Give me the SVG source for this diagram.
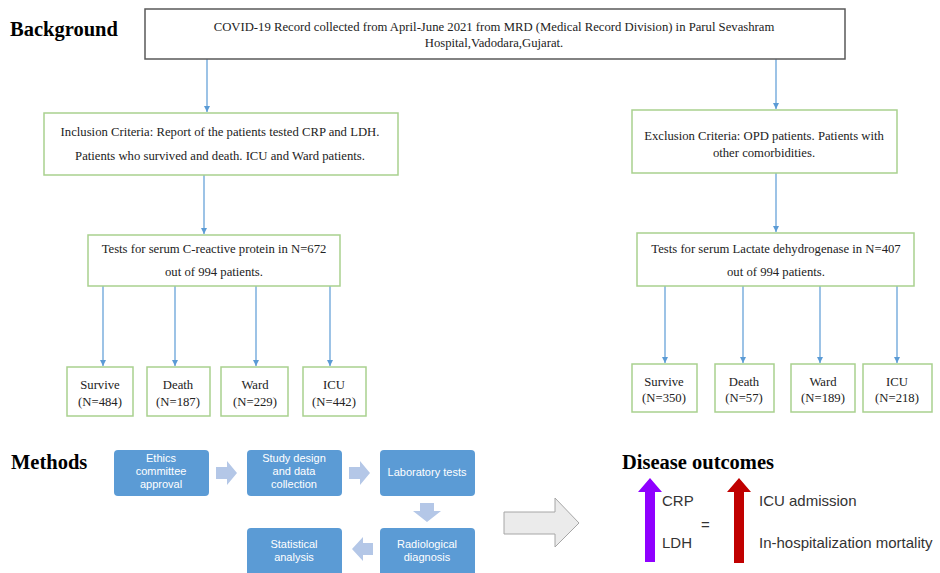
<svg xmlns="http://www.w3.org/2000/svg" width="940" height="573" viewBox="0 0 940 573">
<style>
.bg{fill:#fff}
.head{font-family:"Liberation Serif",serif;font-weight:bold;font-size:20.5px;fill:#000}
.t{font-family:"Liberation Serif",serif;font-size:12.7px;fill:#222;text-anchor:middle}
.gbox{fill:#fff;stroke:#a9d18e;stroke-width:1.5}
.top{fill:#fff;stroke:#595959;stroke-width:1.5}
.con{stroke:#5b9bd5;stroke-width:1.2;fill:none;marker-end:url(#ah)}
.mbox{fill:#5b9bd5}
.mt{font-family:"Liberation Sans",sans-serif;font-size:11px;fill:#fff;text-anchor:middle}
.bar{fill:#b4c7e7}
.ot{font-family:"Liberation Sans",sans-serif;font-size:15px;fill:#333}
</style>
<defs>
<marker id="ah" markerWidth="8" markerHeight="8" refX="6" refY="4" orient="auto" markerUnits="userSpaceOnUse">
<path d="M0,1 L6,4 L0,7 Z" fill="#5b9bd5"/>
</marker>
</defs>
<rect class="bg" x="0" y="0" width="940" height="573"/>
<text class="head" x="10" y="36">Background</text>
<text class="head" x="11" y="469">Methods</text>

<g id="connectors">
<line class="con" x1="207" y1="59" x2="207" y2="112"/>
<line class="con" x1="776" y1="59" x2="776" y2="109"/>
<line class="con" x1="204" y1="175" x2="204" y2="234"/>
<line class="con" x1="776" y1="173" x2="776" y2="232"/>
<line class="con" x1="103" y1="286" x2="103" y2="366"/>
<line class="con" x1="175" y1="286" x2="175" y2="366"/>
<line class="con" x1="256" y1="286" x2="256" y2="366"/>
<line class="con" x1="330" y1="286" x2="330" y2="366"/>
<line class="con" x1="665" y1="286" x2="665" y2="363"/>
<line class="con" x1="743" y1="286" x2="743" y2="363"/>
<line class="con" x1="820" y1="286" x2="820" y2="363"/>
<line class="con" x1="897" y1="286" x2="897" y2="363"/>
</g>

<g id="record">
<rect class="top" x="145" y="9" width="700" height="50"/>
<text class="t" x="494" y="31">COVID-19 Record collected from April-June 2021 from MRD (Medical Record Division)  in Parul Sevashram</text>
<text class="t" x="494" y="47">Hospital,Vadodara,Gujarat.</text>
</g>

<g id="inclusion">
<rect class="gbox" x="44" y="113" width="354" height="62"/>
<text class="t" x="220" y="136">Inclusion  Criteria: Report of the patients tested CRP and LDH.</text>
<text class="t" x="220" y="160">Patients who survived and death. ICU and Ward patients.</text>
</g>

<g id="exclusion">
<rect class="gbox" x="632" y="110" width="265" height="63"/>
<text class="t" x="764" y="140">Exclusion  Criteria:  OPD patients. Patients with</text>
<text class="t" x="764" y="157">other  comorbidities.</text>
</g>

<g id="crp">
<rect class="gbox" x="88" y="235" width="252" height="51"/>
<text class="t" x="214" y="253">Tests for serum C-reactive protein in N=672</text>
<text class="t" x="214" y="276">out of 994 patients.</text>
</g>

<g id="ldh">
<rect class="gbox" x="637" y="233" width="277" height="53"/>
<text class="t" x="776" y="253">Tests for serum Lactate dehydrogenase in N=407</text>
<text class="t" x="776" y="276">out of 994 patients.</text>
</g>

<g id="crp-survive">
<rect class="gbox" x="67" y="367" width="66" height="49"/>
<text class="t" x="100" y="389">Survive</text>
<text class="t" x="100" y="406">(N=484)</text>
</g>
<g id="crp-death">
<rect class="gbox" x="147" y="367" width="63" height="49"/>
<text class="t" x="178" y="389">Death</text>
<text class="t" x="178" y="406">(N=187)</text>
</g>
<g id="crp-ward">
<rect class="gbox" x="221" y="367" width="67" height="49"/>
<text class="t" x="255" y="389">Ward</text>
<text class="t" x="255" y="406">(N=229)</text>
</g>
<g id="crp-icu">
<rect class="gbox" x="303" y="367" width="63" height="49"/>
<text class="t" x="334" y="389">ICU</text>
<text class="t" x="334" y="406">(N=442)</text>
</g>

<g id="ldh-survive">
<rect class="gbox" x="632" y="364" width="65" height="48"/>
<text class="t" x="664" y="386">Survive</text>
<text class="t" x="664" y="402">(N=350)</text>
</g>
<g id="ldh-death">
<rect class="gbox" x="715" y="364" width="59" height="48"/>
<text class="t" x="744" y="386">Death</text>
<text class="t" x="744" y="402">(N=57)</text>
</g>
<g id="ldh-ward">
<rect class="gbox" x="791" y="364" width="64" height="48"/>
<text class="t" x="823" y="386">Ward</text>
<text class="t" x="823" y="402">(N=189)</text>
</g>
<g id="ldh-icu">
<rect class="gbox" x="863" y="364" width="69" height="48"/>
<text class="t" x="897" y="386">ICU</text>
<text class="t" x="897" y="402">(N=218)</text>
</g>

<g id="ethics">
<rect class="mbox" x="114" y="450" width="95" height="46" rx="4"/>
<text class="mt" x="161" y="462">Ethics</text>
<text class="mt" x="161" y="475">committee</text>
<text class="mt" x="161" y="488">approval</text>
</g>
<g id="study">
<rect class="mbox" x="247" y="450" width="95" height="46" rx="4"/>
<text class="mt" x="294" y="462">Study design</text>
<text class="mt" x="294" y="475">and data</text>
<text class="mt" x="294" y="488">collection</text>
</g>
<g id="lab">
<rect class="mbox" x="380" y="450" width="95" height="46" rx="4"/>
<text class="mt" x="427" y="476">Laboratory tests</text>
</g>
<g id="radio">
<rect class="mbox" x="380" y="528" width="95" height="50" rx="4"/>
<text class="mt" x="427" y="548">Radiological</text>
<text class="mt" x="427" y="561">diagnosis</text>
</g>
<g id="stat">
<rect class="mbox" x="247" y="528" width="95" height="50" rx="4"/>
<text class="mt" x="294" y="548">Statistical</text>
<text class="mt" x="294" y="561">analysis</text>
</g>

<g id="method-arrows">
<path class="bar" d="M216,467 H227 V461 L237,473 L227,485 V479 H216 Z"/>
<path class="bar" d="M349,467 H360 V461 L370,473 L360,485 V479 H349 Z"/>
<path class="bar" d="M420,503 V511 H413 L427,522 L441,511 H434 V503 Z"/>
<path class="bar" d="M373,543 H363 V537 L352,549 L363,561 V555 H373 Z"/>
</g>

<g id="big-arrow">
<path d="M504,512 H555 V498 L579,523 L555,547 V534 H504 Z" fill="#ebebeb" stroke="#a6a6a6" stroke-width="1"/>
</g>

<g id="outcomes">
<text class="head" x="622" y="469">Disease outcomes</text>
<path d="M645,562 V492 H638 L650,478 L662,492 H655 V562 Z" fill="#8f00ff"/>
<text class="ot" x="662" y="506">CRP</text>
<text class="ot" x="662" y="548">LDH</text>
<text class="ot" x="701" y="530" font-size="24">=</text>
<path d="M734,563 V492 H727 L739,478 L751,492 H744 V563 Z" fill="#c00000"/>
<text class="ot" x="759" y="506">ICU admission</text>
<text class="ot" x="759" y="548">In-hospitalization mortality</text>
</g>
</svg>
